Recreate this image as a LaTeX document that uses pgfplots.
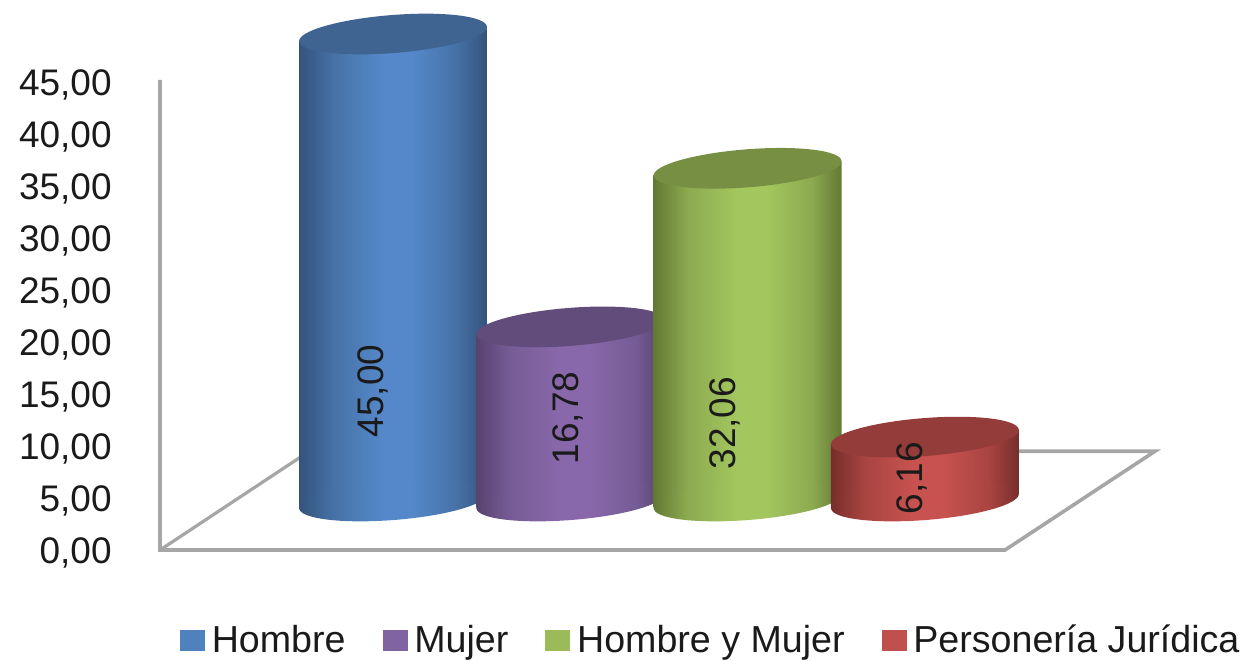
\documentclass[border=0pt]{standalone}
\usepackage{fontspec}
\setmainfont{Liberation Sans}
\usepackage{pgfplots}
\pgfplotsset{compat=1.18}
\usetikzlibrary{shapes.geometric}

% 1px of the reference = 0.5pt here
\definecolor{wall}{HTML}{A6A6A6}
\definecolor{txt}{HTML}{1A1A1A}
\definecolor{legblue}{HTML}{4F81BD}
\definecolor{legpurple}{HTML}{8064A2}
\definecolor{leggreen}{HTML}{9BBB59}
\definecolor{legred}{HTML}{C0504D}
\definecolor{capblue}{HTML}{3F6491}
\definecolor{cappurple}{HTML}{624C7C}
\definecolor{capgreen}{HTML}{768F42}
\definecolor{capred}{HTML}{933C3A}

\definecolor{bA}{HTML}{34537C}\definecolor{bB}{HTML}{4671A5}\definecolor{bC}{HTML}{5588CA}
\definecolor{pA}{HTML}{58426E}\definecolor{pB}{HTML}{765C96}\definecolor{pC}{HTML}{8868AA}
\definecolor{gA}{HTML}{627932}\definecolor{gB}{HTML}{8CAA50}\definecolor{gC}{HTML}{A3C65E}
\definecolor{rA}{HTML}{762E2C}\definecolor{rB}{HTML}{A84441}\definecolor{rC}{HTML}{C8524F}

\pgfdeclarehorizontalshading{cylblue}{100bp}{
  color(0bp)=(bA); color(25bp)=(bA); color(34bp)=(bB); color(47bp)=(bC);
  color(55bp)=(bC); color(67bp)=(bB); color(75bp)=(bA); color(100bp)=(bA)}
\pgfdeclarehorizontalshading{cylpurple}{100bp}{
  color(0bp)=(pA); color(25bp)=(pA); color(34bp)=(pB); color(47bp)=(pC);
  color(55bp)=(pC); color(67bp)=(pB); color(75bp)=(pA); color(100bp)=(pA)}
\pgfdeclarehorizontalshading{cylgreen}{100bp}{
  color(0bp)=(gA); color(25bp)=(gA); color(34bp)=(gB); color(47bp)=(gC);
  color(55bp)=(gC); color(67bp)=(gB); color(75bp)=(gA); color(100bp)=(gA)}
\pgfdeclarehorizontalshading{cylred}{100bp}{
  color(0bp)=(rA); color(25bp)=(rA); color(34bp)=(rB); color(47bp)=(rC);
  color(55bp)=(rC); color(67bp)=(rB); color(75bp)=(rA); color(100bp)=(rA)}

\pgfplotsset{
  /pgf/number format/.cd, fixed, fixed zerofill, precision=2, use comma, assume math mode=true,
  /pgfplots/.cd,
  samescale/.style={
    scale only axis, width=500pt, clip=false,
    xmin=-1.3142, xmax=4.3260, ymin=0, ymax=45,
  },
  cyl/.style={samescale, at={(0,24.5pt)}, anchor=south west, height=233.5pt, hide axis},
  ell/.style={
    forget plot, draw=none, mark=none, nodes near coords={},
    every node near coord/.append style={
      anchor=center, shape=ellipse, inner sep=0pt, outer sep=0pt, draw=none,
      minimum width=94.2pt, minimum height=19pt, rotate=4.5, #1},
  },
  body/.style={forget plot, draw=none, mark=none, shade, shading=#1},
  val/.style={
    forget plot, draw=none, mark=none, point meta=explicit,
    nodes near coords,
    every node near coord/.append style={anchor=center, rotate=90, inner sep=0pt,
      text=txt, font=\fontsize{18.5}{20}\selectfont},
  },
}

\begin{document}
\begin{tikzpicture}
\path[use as bounding box] (-80pt,-55pt) rectangle (542.5pt,275pt);

% wall, floor and value axis
\begin{axis}[
  samescale, at={(0,0)}, anchor=south west, height=234pt,
  axis line style={draw=none}, xtick=\empty,
  ytick={0,5,...,45}, major tick length=0pt, scaled ticks=false,
  yticklabel style={anchor=east, inner sep=0pt, xshift=-24pt, yshift=-1.25pt, text=txt,
    font=\fontsize{18.5}{20}\selectfont},
]
\addplot[wall, line width=1.8pt, mark=none, line join=miter] coordinates {
  (-1.314,45.2) (-1.314,0) (3.452,0) (4.298,9.5) (3.52,9.5)};
\addplot[wall, line width=1.6pt, mark=none] coordinates {(-1.314,0) (-0.525,8.9)};
\end{axis}

% cylinders, offset from the wall as the 3D view does; one axis each so that
% each one lies over the one before it
\begin{axis}[cyl]
% Hombre
\addplot[ell={shade, shading=cylblue}] coordinates {(0,0)};
\addplot[body=cylblue] coordinates {(-0.53,-0.667) (-0.53,44.333) (0.53,45.667) (0.53,0.667)} -- cycle;
\addplot[ell={fill=capblue}] coordinates {(0,45)};
\addplot[val] coordinates {(-0.113,10.6) [45]};
\end{axis}

\begin{axis}[cyl]
% Mujer
\addplot[ell={shade, shading=cylpurple}] coordinates {(1,0)};
\addplot[body=cylpurple] coordinates {(0.47,-0.667) (0.47,16.113) (1.53,17.447) (1.53,0.667)} -- cycle;
\addplot[ell={fill=cappurple}] coordinates {(1,16.78)};
\addplot[val] coordinates {(0.987,8.0) [16.78]};
\end{axis}

\begin{axis}[cyl]
% Hombre y Mujer
\addplot[ell={shade, shading=cylgreen}] coordinates {(2,0)};
\addplot[body=cylgreen] coordinates {(1.47,-0.667) (1.47,31.393) (2.53,32.727) (2.53,0.667)} -- cycle;
\addplot[ell={fill=capgreen}] coordinates {(2,32.06)};
\addplot[val] coordinates {(1.873,7.5) [32.06]};
\end{axis}

\begin{axis}[cyl,
  legend columns=4,
  legend cell align=left,
  legend style={at={(0.02,-0.298)}, anchor=west, draw=none, fill=none,
    inner sep=0pt, outer sep=0pt, text=txt,
    font=\fontsize{18.8}{20}\selectfont,
    /tikz/every odd column/.append style={column sep=1.5pt},
    /tikz/every even column/.append style={column sep=16.5pt}},
]
% Personeria Juridica
\addplot[ell={shade, shading=cylred}] coordinates {(3,0)};
\addplot[body=cylred] coordinates {(2.47,-0.667) (2.47,5.493) (3.53,6.827) (3.53,0.667)} -- cycle;
\addplot[ell={fill=capred}] coordinates {(3,6.16)};
\addplot[val] coordinates {(2.927,2.2) [6.16]};

\addlegendimage{legend image code/.code={\fill[legblue] (0,-8.65pt) rectangle (12pt,4.95pt);}}
\addlegendentry{Hombre}
\addlegendimage{legend image code/.code={\fill[legpurple] (0,-8.65pt) rectangle (12pt,4.95pt);}}
\addlegendentry{Mujer}
\addlegendimage{legend image code/.code={\fill[leggreen] (0,-8.65pt) rectangle (12pt,4.95pt);}}
\addlegendentry{Hombre y Mujer}
\addlegendimage{legend image code/.code={\fill[legred] (0,-8.65pt) rectangle (12pt,4.95pt);}}
\addlegendentry{Personería Jurídica}
\end{axis}
\end{tikzpicture}
\end{document}
